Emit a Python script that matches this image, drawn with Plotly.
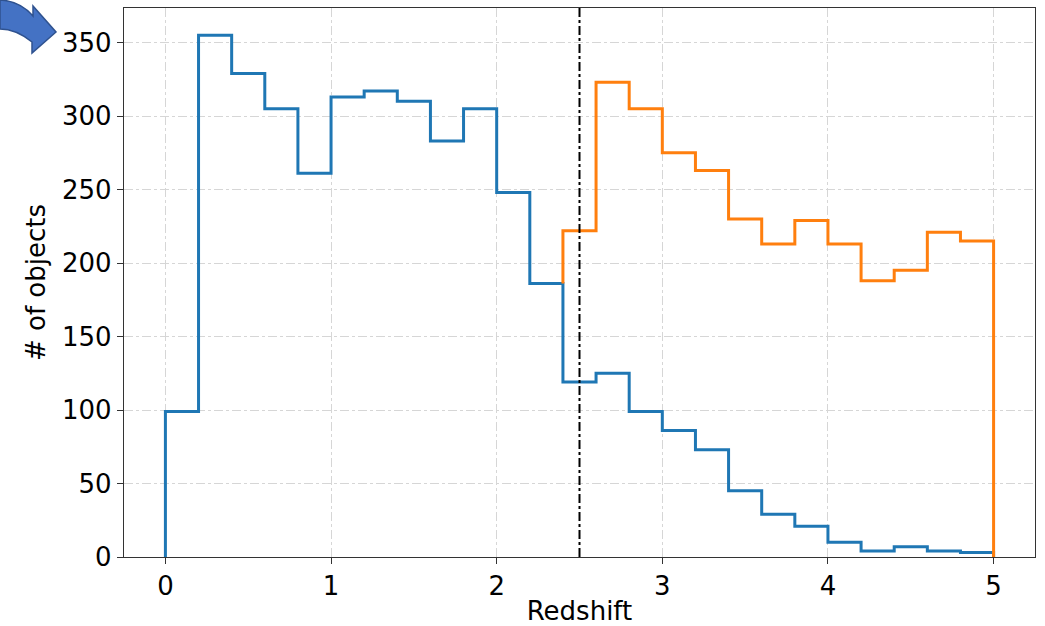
import plotly.graph_objects as go

# ---- data ----
bin_edges = [round(0.2 * i, 1) for i in range(26)]  # 0.0 .. 5.0
blue_counts = [99, 355, 329, 305, 261, 313, 317, 310, 283, 305, 248, 186,
               119, 125, 99, 86, 73, 45, 29, 21, 10, 4, 7, 4, 3]
orange_start = 2.4
orange_counts = [222, 323, 305, 275, 263, 230, 213, 229, 213, 188, 195, 221, 215]
split_z = 2.5
x_ticks = [0, 1, 2, 3, 4, 5]
y_ticks = [0, 50, 100, 150, 200, 250, 300, 350]

BLUE = "#1f77b4"
ORANGE = "#ff7f0e"
FONT = "DejaVu Sans"

W, H = 1045, 626
L, R, T, B = 124, 1035, 8, 557

# step outline for blue histogram
bx = [bin_edges[0]] + bin_edges[:-1] + [bin_edges[-1]]
by = [0] + blue_counts + [0]

# step outline for orange histogram (starts at edge 2.4)
i0 = bin_edges.index(orange_start)
ox = [orange_start] + bin_edges[i0:-1] + [bin_edges[-1]]
oy = [blue_counts[i0 - 1]] + orange_counts + [0]

fig = go.Figure()
fig.add_trace(go.Scatter(x=bx, y=by, mode="lines", line=dict(color=BLUE, width=3, shape="hv"),
                         showlegend=False, hoverinfo="skip"))
fig.add_trace(go.Scatter(x=ox, y=oy, mode="lines", line=dict(color=ORANGE, width=3, shape="hv"),
                         showlegend=False, hoverinfo="skip"))

# vertical dash-dot line
fig.add_shape(type="line", x0=split_z, x1=split_z, y0=0, y1=1, xref="x", yref="paper",
              line=dict(color="black", width=2, dash="dashdot"), layer="above")

# decorative curved arrow (top-left), defined in pixels then mapped to paper coords
def px(x):
    return (x - L) / (R - L)

def py(y):
    return (B - y) / (B - T)

pts = [("M", [(0, 0)]), ("Q", [(20, 1), (33, 16)]), ("L", [(33, 6)]), ("L", [(56, 32)]),
       ("L", [(32, 53)]), ("L", [(32, 42)]), ("Q", [(16, 29), (0, 29)])]
path = ""
for cmd, ps in pts:
    path += cmd + " " + " ".join(f"{px(a):.5f},{py(b):.5f}" for a, b in ps) + " "
path += "Z"
fig.add_shape(type="path", path=path, xref="paper", yref="paper",
              fillcolor="#4472C4", line=dict(color="#2F528F", width=1.5), layer="above")

axis_common = dict(
    showline=True, linecolor="#333333", linewidth=1.3, mirror=True,
    ticks="outside", ticklen=6, tickwidth=1.3, tickcolor="#333333",
    showgrid=True, gridcolor="#d6d6d6", gridwidth=1, griddash="dashdot",
    zeroline=False, tickfont=dict(family=FONT, size=26, color="black"),
)

fig.update_xaxes(range=[-0.25, 5.25], tickvals=x_ticks, ticktext=[str(t) for t in x_ticks],
                 title=dict(text="Redshift", font=dict(family=FONT, size=26, color="black"), standoff=6),
                 **axis_common)
fig.update_yaxes(range=[0, 373.5], tickvals=y_ticks, ticktext=[str(t) for t in y_ticks],
                 title=dict(text="# of objects", font=dict(family=FONT, size=26, color="black"), standoff=8),
                 **axis_common)

fig.update_layout(
    width=W, height=H,
    margin=dict(l=L, r=W - R, t=T, b=H - B, autoexpand=False),
    paper_bgcolor="white", plot_bgcolor="white",
    font=dict(family=FONT),
)

fig.write_html("out.html", config={"displayModeBar": False},
               post_script="document.body.style.margin='0px';")
